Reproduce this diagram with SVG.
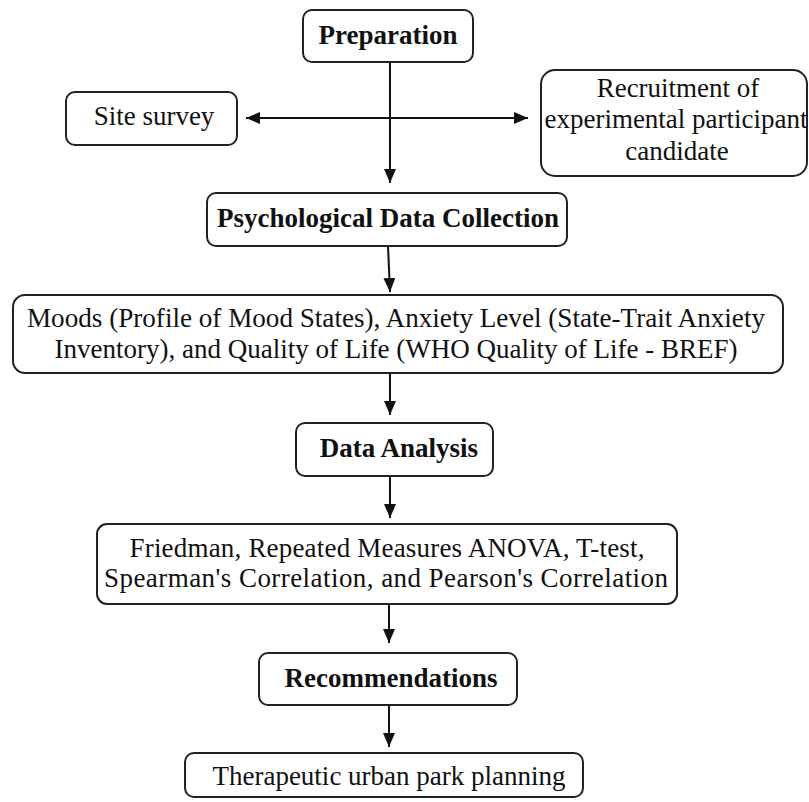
<svg xmlns="http://www.w3.org/2000/svg" width="809" height="802" viewBox="0 0 809 802">
<style>
.box{fill:#fff;stroke:#222;stroke-width:2}
.t{font-family:"Liberation Serif","Times New Roman",serif;font-size:27px;fill:#111;text-anchor:middle}
.b{font-weight:bold}
.c{stroke:#111;stroke-width:2;fill:none}
</style>
<defs>
<marker id="ah" markerUnits="userSpaceOnUse" markerWidth="14" markerHeight="12" viewBox="0 0 14 12" refX="14" refY="6" orient="auto-start-reverse">
<path d="M0,0 L14,6 L0,12 Z" fill="#111"/>
</marker>
</defs>
<rect width="809" height="802" fill="#fff"/>
<g id="connectors">
<path class="c" d="M390,62 L390,183" marker-end="url(#ah)"/>
<path class="c" d="M246,118 L528,118" marker-start="url(#ah)" marker-end="url(#ah)"/>
<path class="c" d="M388,246 L390,292" marker-end="url(#ah)"/>
<path class="c" d="M390,373 L390,415" marker-end="url(#ah)"/>
<path class="c" d="M390,476 L390,518" marker-end="url(#ah)"/>
<path class="c" d="M389,604 L389,643" marker-end="url(#ah)"/>
<path class="c" d="M389,705 L389,747" marker-end="url(#ah)"/>
</g>
<g id="preparation">
<rect class="box" x="303" y="10" width="170" height="52" rx="9"/>
<text class="t b" x="388" y="44">Preparation</text>
</g>
<g id="site-survey">
<rect class="box" x="66" y="92" width="171" height="53" rx="9"/>
<text class="t" x="154" y="125">Site survey</text>
</g>
<g id="recruitment">
<rect class="box" x="541" y="70" width="266" height="106" rx="14"/>
<text class="t" x="678" y="97">Recruitment of</text>
<text class="t" x="676" y="128">experimental participant</text>
<text class="t" x="677" y="160">candidate</text>
</g>
<g id="psych">
<rect class="box" x="207" y="193" width="360" height="53" rx="9"/>
<text class="t b" x="388" y="227">Psychological Data Collection</text>
</g>
<g id="measures">
<rect class="box" x="13" y="295" width="770" height="78" rx="12"/>
<text class="t" x="396" y="327" textLength="738" lengthAdjust="spacingAndGlyphs">Moods (Profile of Mood States), Anxiety Level (State-Trait Anxiety</text>
<text class="t" x="396" y="358" textLength="683" lengthAdjust="spacingAndGlyphs">Inventory), and Quality of Life (WHO Quality of Life - BREF)</text>
</g>
<g id="analysis">
<rect class="box" x="296" y="423" width="197" height="53" rx="9"/>
<text class="t b" x="399" y="457">Data Analysis</text>
</g>
<g id="methods">
<rect class="box" x="97" y="524" width="580" height="80" rx="10"/>
<text class="t" x="387" y="557" textLength="515" lengthAdjust="spacing">Friedman, Repeated Measures ANOVA, T-test,</text>
<text class="t" x="386" y="587" textLength="564" lengthAdjust="spacing">Spearman's Correlation, and Pearson's Correlation</text>
</g>
<g id="recommendations">
<rect class="box" x="259" y="653" width="258" height="52" rx="9"/>
<text class="t b" x="391" y="687">Recommendations</text>
</g>
<g id="planning">
<rect class="box" x="185" y="753" width="398" height="44" rx="9"/>
<text class="t" x="389" y="785">Therapeutic urban park planning</text>
</g>
</svg>
